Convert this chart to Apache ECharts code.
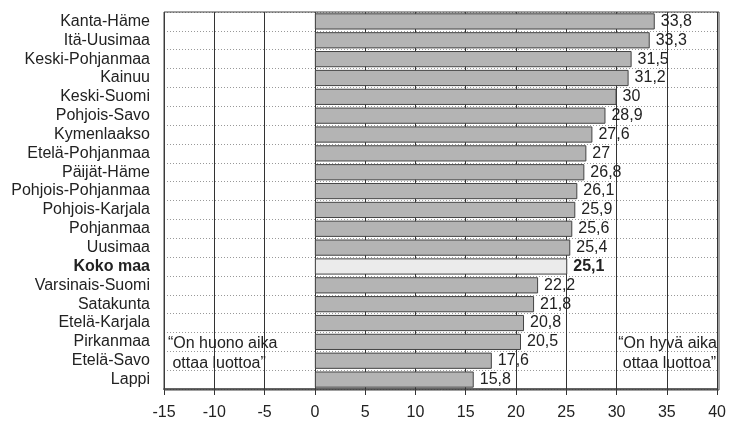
<!DOCTYPE html>
<html>
<head>
<meta charset="utf-8">
<script src="https://cdn.jsdelivr.net/npm/echarts@6/dist/echarts.min.js"></script>
<style>
  html, body { margin: 0; padding: 0; background: #fff; }
  #chart { width: 729px; height: 421px; }
</style>
</head>
<body>
<div id="chart"></div>
<script>
// alueet ylhäältä alas
var regions = ['Kanta-Häme', 'Itä-Uusimaa', 'Keski-Pohjanmaa', 'Kainuu', 'Keski-Suomi',
  'Pohjois-Savo', 'Kymenlaakso', 'Etelä-Pohjanmaa', 'Päijät-Häme', 'Pohjois-Pohjanmaa',
  'Pohjois-Karjala', 'Pohjanmaa', 'Uusimaa', 'Koko maa', 'Varsinais-Suomi', 'Satakunta',
  'Etelä-Karjala', 'Pirkanmaa', 'Etelä-Savo', 'Lappi'];
var values = [33.8, 33.3, 31.5, 31.2, 30, 28.9, 27.6, 27, 26.8, 26.1,
  25.9, 25.6, 25.4, 25.1, 22.2, 21.8, 20.8, 20.5, 17.6, 15.8];
var highlight = 'Koko maa';
var xMin = -15, xMax = 40, xStep = 5;

var font = "'Liberation Sans Narrow', 'Liberation Sans', sans-serif";

var data = values.map(function (v, i) {
  var isAll = regions[i] === highlight;
  return {
    value: v,
    itemStyle: { color: isAll ? '#ebebeb' : '#b4b4b4' },
    label: { fontWeight: isAll ? 'bold' : 'normal' }
  };
});

var myChart = echarts.init(document.getElementById('chart'));
var option = {
  animation: false,
  grid: { left: 164, right: 10, top: 12, bottom: 31 },
  xAxis: {
    type: 'value',
    min: xMin, max: xMax, interval: xStep,
    axisLine: { show: true, onZero: false, lineStyle: { color: '#333', width: 1.5 } },
    axisTick: { show: true, inside: false, length: 6, lineStyle: { color: '#333' } },
    axisLabel: { color: '#222', fontSize: 16, fontFamily: font, margin: 16 },
    splitLine: { show: true, lineStyle: { color: '#333', width: 1 } }
  },
  yAxis: {
    type: 'category',
    data: regions,
    inverse: true,
    axisLine: { show: false },
    axisTick: { show: false },
    axisLabel: {
      interval: 0,
      color: '#222', fontSize: 16, fontFamily: font, margin: 14,
      formatter: function (v) { return v === highlight ? '{b|' + v + '}' : v; },
      rich: { b: { fontWeight: 'bold', fontSize: 16, fontFamily: font, color: '#222' } }
    },
    splitLine: { show: true, interval: 0, lineStyle: { color: '#999', type: [1, 2], width: 1 } }
  },
  series: [{
    type: 'bar',
    data: data,
    barCategoryGap: '14%',
    itemStyle: { borderColor: '#444', borderWidth: 1 },
    label: {
      show: true, position: 'right', distance: 6,
      color: '#222', fontSize: 16, fontFamily: font,
      formatter: function (p) { return String(p.value).replace('.', ','); }
    },
    z: 3
  }],
  graphic: [
    { type: 'rect', shape: { x: 164, y: 12, width: 555, height: 378 }, style: { fill: 'none', stroke: '#444', lineWidth: 1 }, z: 10, silent: true },
    { type: 'text', left: 168, top: 334, style: { text: '“On huono aika\n ottaa luottoa”', font: '16px ' + font, fill: '#222', lineHeight: 20 }, z: 10 },
    { type: 'text', right: 12, top: 334, style: { text: '“On hyvä aika\n ottaa luottoa”', font: '16px ' + font, fill: '#222', lineHeight: 20, align: 'left' }, z: 10 }
  ]
};
myChart.setOption(option);
</script>
</body>
</html>
